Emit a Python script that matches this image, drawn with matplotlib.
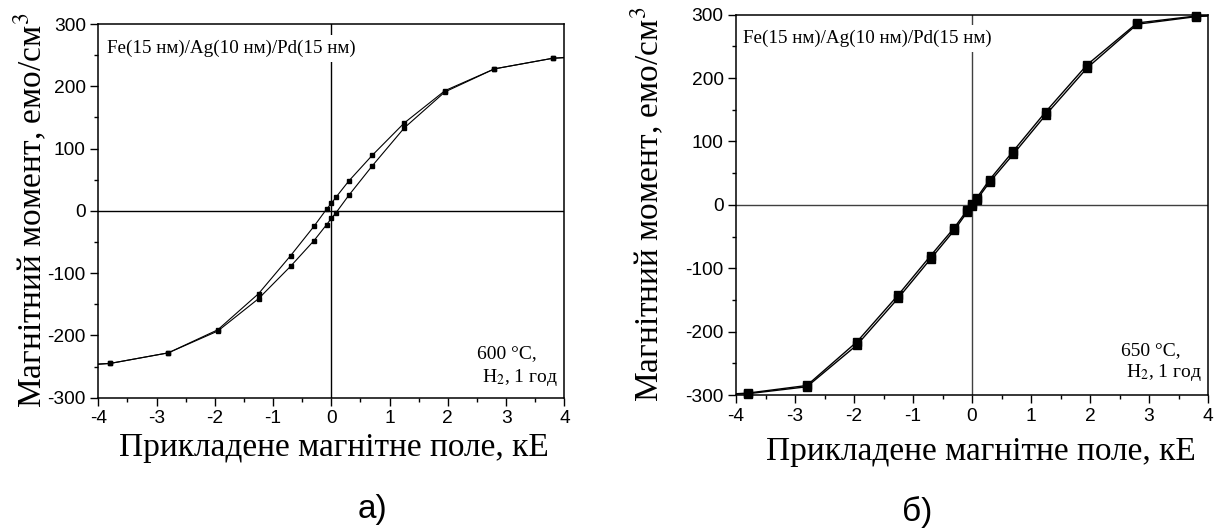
import numpy as np
import matplotlib
matplotlib.use("Agg")
import matplotlib.pyplot as plt
from matplotlib.ticker import MultipleLocator

plt.rcParams['font.family'] = ['Liberation Sans', 'DejaVu Sans']
plt.rcParams['mathtext.fontset'] = 'stix'
plt.rcParams['axes.unicode_minus'] = False

# field values (kOe); first/last points lie outside the visible range
field = [4.8, 3.8, 2.8, 1.95, 1.25, 0.7, 0.3, 0.08, 0.0, -0.08, -0.3, -0.7, -1.25, -1.95, -2.8, -3.8, -4.8]

# panel a) 600 C: descending-field branch (the ascending one is its mirror image)
down_a = [249, 245, 228, 193, 141, 89, 48, 22, 12, 3, -25, -72, -133, -191, -228, -245, -252]
up_a = [-v for v in down_a]

# panel b) 650 C
down_b = [300, 298, 287, 221, 147, 85, 40, 11, 2, -8, -36, -80, -142, -216, -285, -297, -302]
up_b = [-v for v in down_b]

xlabel = "Прикладене магнітне поле, кЕ"
ylabel = "Магнітний момент, емо/см$^3$"
sample = "Fe(15 нм)/Ag(10 нм)/Pd(15 нм)"
serif = ['Liberation Serif', 'DejaVu Serif']

fig = plt.figure(figsize=(12.2, 5.29), dpi=100)
ax_a = fig.add_axes([0.0806, 0.2482, 0.382, 0.7064])
ax_b = fig.add_axes([0.6033, 0.2533, 0.3869, 0.7189])


def setup(ax, x, down, up, ms, lw, cross, temp, pos):
    ax.axhline(0, color=cross, lw=1.0, zorder=1)
    ax.axvline(0, color=cross, lw=1.0, zorder=1)
    f = np.array(x)
    for xx, yy in [(f, down), (-f, up)]:
        ax.plot(xx, yy, '-', color='black', lw=lw, zorder=3)
        ax.plot(xx, yy, 's', color='black', ms=ms, markevery=slice(1, -1),
                clip_on=False, zorder=4)
    ax.set_xlim(-4, 4)
    ax.set_ylim(-300, 300)
    ax.xaxis.set_major_locator(MultipleLocator(1))
    ax.xaxis.set_minor_locator(MultipleLocator(0.5))
    ax.yaxis.set_major_locator(MultipleLocator(100))
    ax.yaxis.set_minor_locator(MultipleLocator(50))
    ax.tick_params(which='major', direction='out', length=5.5, width=1.0,
                   labelsize=13.8, pad=3.5)
    ax.tick_params(which='minor', direction='out', length=3, width=1.0)
    for s in ax.spines.values():
        s.set_linewidth(1.1)
    ax.set_xlabel(xlabel, family=serif, fontsize=24, va='baseline')
    ax.set_ylabel(ylabel, family=serif, fontsize=24, va='baseline')
    ax.yaxis.set_label_coords(pos['ylx'], 0.5)
    ax.xaxis.set_label_coords(pos['xlx'], pos['xly'])
    ax.text(pos['sx'], pos['sy'], sample, transform=ax.transAxes, family=serif,
            fontsize=13.7, va='baseline', ha='left', zorder=2,
            bbox=dict(facecolor='white', edgecolor='none', pad=3.5))
    ax.text(pos['t1'][0], pos['t1'][1], temp + ",", transform=ax.transAxes,
            family=serif, fontsize=14, va='baseline', ha='left')
    ax.text(pos['t2'][0], pos['t2'][1], "H$_2$, 1 год", transform=ax.transAxes,
            family=serif, fontsize=14, va='baseline', ha='left')


setup(ax_a, field, down_a, up_a, 3.4, 0.8, 'black', "600 °C",
      dict(ylx=-0.122, xlx=0.506, xly=-0.156, sx=0.019, sy=0.9216,
           t1=(0.812, 0.1054), t2=(0.823, 0.0428)))
setup(ax_b, field, down_b, up_b, 5.8, 1.0, '#404040', "650 °C",
      dict(ylx=-0.163, xlx=0.518, xly=-0.171, sx=0.0142, sy=0.9248,
           t1=(0.815, 0.105), t2=(0.826, 0.048)))

fig.text(0.3053, 0.036, "а)", fontsize=24, ha='center', va='center')
fig.text(0.7516, 0.032, "б)", fontsize=24, ha='center', va='center')

fig.savefig("out.png", dpi=100)
